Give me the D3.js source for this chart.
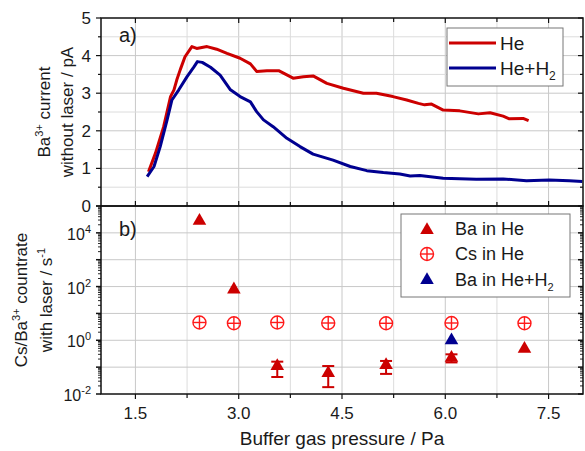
<!DOCTYPE html>
<html>
<head>
<meta charset="utf-8">
<script src="https://cdn.jsdelivr.net/npm/d3@7"></script>
<style>
  body { margin: 0; background: #fff; }
  text { font-family: Arial, "Liberation Sans", sans-serif; fill: #1a1a1a; }
</style>
</head>
<body>
<svg id="chart"></svg>
<script>
const width = 585;
const height = 451;

// panel a) ion current curves (pressure / Pa, current / pA)
const heX = [1.69, 1.79, 1.91, 2.01, 2.06, 2.10, 2.15, 2.22, 2.32, 2.39, 2.54, 2.68, 2.83, 3.02, 3.17, 3.26, 3.41, 3.58, 3.79, 3.94, 4.08, 4.28, 4.52, 4.81, 5.00, 5.24, 5.44, 5.61, 5.70, 5.80, 5.97, 6.21, 6.48, 6.65, 6.84, 6.93, 7.13, 7.21];
const heY = [0.91, 1.40, 2.11, 2.91, 3.09, 3.35, 3.62, 3.97, 4.24, 4.19, 4.24, 4.17, 4.06, 3.93, 3.78, 3.58, 3.60, 3.60, 3.40, 3.44, 3.46, 3.26, 3.13, 3.00, 3.00, 2.91, 2.82, 2.73, 2.69, 2.71, 2.55, 2.53, 2.45, 2.48, 2.39, 2.32, 2.33, 2.27];
const h2X = [1.67, 1.77, 1.86, 1.96, 2.03, 2.13, 2.25, 2.35, 2.40, 2.47, 2.59, 2.73, 2.88, 3.02, 3.17, 3.26, 3.36, 3.50, 3.70, 3.89, 4.08, 4.37, 4.62, 4.86, 5.10, 5.34, 5.49, 5.63, 5.97, 6.45, 6.84, 7.18, 7.51, 7.80, 7.99];
const h2Y = [0.78, 1.05, 1.58, 2.29, 2.82, 3.09, 3.44, 3.70, 3.84, 3.82, 3.69, 3.48, 3.09, 2.91, 2.77, 2.51, 2.29, 2.11, 1.80, 1.58, 1.38, 1.22, 1.05, 0.94, 0.89, 0.85, 0.80, 0.81, 0.74, 0.71, 0.72, 0.67, 0.69, 0.67, 0.65];

// panel b) count rates with laser / s^-1
const baHeX = [2.43, 2.93, 3.56, 4.30, 5.14, 6.09, 7.15];
const baHeY = [28000, 78, 0.11, 0.06, 0.12, 0.22, 0.48];
const baHeLo = [null, null, 0.043, 0.018, 0.056, 0.15, null];
const baHeHi = [null, null, 0.16, 0.11, 0.17, 0.30, null];
const csHeX = [2.43, 2.93, 3.56, 4.30, 5.14, 6.09, 7.15];
const csHeY = [4.6, 4.3, 4.6, 4.4, 4.3, 4.4, 4.3];
const baH2X = [6.09];
const baH2Y = [1.0];

const xTicks = [1.5, 3.0, 4.5, 6.0, 7.5];
const yaTicks = [0, 1, 2, 3, 4, 5];
const ybTicks = [1e-2, 1, 1e2, 1e4];

const red = '#cc0000';
const lightRed = '#ff1a1a';
const blue = '#000090';

const svg = d3.select('#chart')
  .attr('width', width)
  .attr('height', height);

const x = d3.scaleLinear().domain([1, 8]).range([101, 583]);
const ya = d3.scaleLinear().domain([0, 5]).range([206, 18]);
const yb = d3.scaleLog().domain([1e-2, 1e5]).range([394, 206]);

const xGrid = d3.range(1.5, 8, 0.75);

/* grid lines */
const grid = svg.append('g');
grid.selectAll('.gxa')
  .data(xGrid)
  .enter()
  .append('line')
    .attr('x1', d => x(d)).attr('x2', d => x(d))
    .attr('y1', ya(5)).attr('y2', yb(1e-2))
    .attr('stroke', (d, i) => i % 2 ? '#dcdcdc' : '#c8c8c8')
    .attr('stroke-width', 1);
grid.selectAll('.gya')
  .data(d3.range(0.5, 5, 0.5))
  .enter()
  .append('line')
    .attr('x1', x(1)).attr('x2', x(8))
    .attr('y1', d => ya(d)).attr('y2', d => ya(d))
    .attr('stroke', d => d % 1 ? '#dcdcdc' : '#c8c8c8')
    .attr('stroke-width', 1);
grid.selectAll('.gyb')
  .data(d3.range(-1, 5).map(e => Math.pow(10, e)))
  .enter()
  .append('line')
    .attr('x1', x(1)).attr('x2', x(8))
    .attr('y1', d => yb(d)).attr('y2', d => yb(d))
    .attr('stroke', '#c8c8c8')
    .attr('stroke-width', 1);

/* panel a curves */
const line = d3.line()
  .x(d => x(d[0]))
  .y(d => ya(d[1]));

svg.append('path')
  .datum(heX.map((v, i) => [v, heY[i]]))
  .attr('d', line)
  .attr('fill', 'none')
  .attr('stroke', red)
  .attr('stroke-width', 3)
  .attr('stroke-linejoin', 'round');

svg.append('path')
  .datum(h2X.map((v, i) => [v, h2Y[i]]))
  .attr('d', line)
  .attr('fill', 'none')
  .attr('stroke', blue)
  .attr('stroke-width', 3)
  .attr('stroke-linejoin', 'round');

/* panel b markers */
const tri = d3.symbol().type(d3.symbolTriangle).size(80);

const bars = baHeX.map((v, i) => ({x: v, lo: baHeLo[i], hi: baHeHi[i]})).filter(d => d.lo);
const eb = svg.append('g').attr('stroke', red).attr('stroke-width', 2);
bars.forEach(d => {
  eb.append('line').attr('x1', x(d.x)).attr('x2', x(d.x)).attr('y1', yb(d.lo)).attr('y2', yb(d.hi));
  eb.append('line').attr('x1', x(d.x) - 6).attr('x2', x(d.x) + 6).attr('y1', yb(d.lo)).attr('y2', yb(d.lo));
  eb.append('line').attr('x1', x(d.x) - 6).attr('x2', x(d.x) + 6).attr('y1', yb(d.hi)).attr('y2', yb(d.hi));
});

svg.selectAll('.baHe')
  .data(baHeX.map((v, i) => [v, baHeY[i]]))
  .enter()
  .append('path')
    .attr('d', tri)
    .attr('transform', d => `translate(${x(d[0])},${yb(d[1])})`)
    .attr('fill', red);

svg.selectAll('.baH2')
  .data(baH2X.map((v, i) => [v, baH2Y[i]]))
  .enter()
  .append('path')
    .attr('d', tri)
    .attr('transform', d => `translate(${x(d[0])},${yb(d[1])})`)
    .attr('fill', blue);

function circlePlus(g, cx, cy) {
  const c = g.append('g')
    .attr('transform', `translate(${cx},${cy})`)
    .attr('stroke', lightRed)
    .attr('stroke-width', 1.4)
    .attr('fill', 'none');
  c.append('circle').attr('r', 6.5);
  c.append('line').attr('x1', -6.5).attr('x2', 6.5);
  c.append('line').attr('y1', -6.5).attr('y2', 6.5);
}
const cs = svg.append('g');
csHeX.forEach((v, i) => circlePlus(cs, x(v), yb(csHeY[i])));

/* frames */
const frame = svg.append('g').attr('fill', 'none').attr('stroke', '#111').attr('stroke-width', 1.5);
frame.append('rect').attr('x', x(1)).attr('y', ya(5)).attr('width', x(8) - x(1)).attr('height', ya(0) - ya(5));
frame.append('rect').attr('x', x(1)).attr('y', yb(1e5)).attr('width', x(8) - x(1)).attr('height', yb(1e-2) - yb(1e5));

const ticks = svg.append('g').attr('stroke', '#111').attr('stroke-width', 1.2);
xGrid.forEach(v => {
  const len = v % 1.5 === 0 ? 5 : 4;
  ticks.append('line').attr('x1', x(v)).attr('x2', x(v)).attr('y1', ya(5)).attr('y2', ya(5) + len);
  ticks.append('line').attr('x1', x(v)).attr('x2', x(v)).attr('y1', ya(0)).attr('y2', ya(0) - len);
  ticks.append('line').attr('x1', x(v)).attr('x2', x(v)).attr('y1', yb(1e-2)).attr('y2', yb(1e-2) + len);
});
d3.range(0, 5.01, 0.5).forEach(v => {
  const len = v % 1 ? 3 : 5;
  ticks.append('line').attr('x1', x(1)).attr('x2', x(1) - len).attr('y1', ya(v)).attr('y2', ya(v));
  ticks.append('line').attr('x1', x(8)).attr('x2', x(8) - len).attr('y1', ya(v)).attr('y2', ya(v));
});
const logTicks = [];
for (let e = -2; e < 5; e++) {
  for (let m = 1; m < 10; m++) logTicks.push({v: m * Math.pow(10, e), major: m === 1});
}
logTicks.push({v: 1e5, major: true});
logTicks.forEach(t => {
  const len = t.major ? 5 : 3;
  ticks.append('line').attr('x1', x(1)).attr('x2', x(1) - len).attr('y1', yb(t.v)).attr('y2', yb(t.v)).attr('stroke-width', t.major ? 1.5 : 0.9);
  ticks.append('line').attr('x1', x(8)).attr('x2', x(8) - len).attr('y1', yb(t.v)).attr('y2', yb(t.v)).attr('stroke-width', t.major ? 1.5 : 0.9);
});

/* tick labels */
svg.selectAll('.xl')
  .data(xTicks)
  .enter()
  .append('text')
    .attr('x', d => x(d))
    .attr('y', 419)
    .attr('text-anchor', 'middle')
    .style('font-size', '17px')
    .text(d => d.toFixed(1));

svg.selectAll('.yal')
  .data(yaTicks)
  .enter()
  .append('text')
    .attr('x', 91)
    .attr('y', d => ya(d) + 6)
    .attr('text-anchor', 'end')
    .style('font-size', '17px')
    .text(d => d);

const ybl = svg.selectAll('.ybl')
  .data(ybTicks)
  .enter()
  .append('text')
    .attr('x', 91)
    .attr('y', d => yb(d) + 7)
    .attr('text-anchor', 'end')
    .style('font-size', '16px');
ybl.append('tspan').text('10');
ybl.append('tspan')
  .attr('dy', -7)
  .style('font-size', '11px')
  .text(d => Math.round(Math.log10(d)));

/* axis titles */
const ta = svg.append('text')
  .attr('transform', `translate(50,${(ya(0) + ya(5)) / 2}) rotate(-90)`)
  .attr('text-anchor', 'middle')
  .style('font-size', '17px');
ta.append('tspan').text('Ba');
ta.append('tspan').attr('dy', -7).style('font-size', '11px').text('3+');
ta.append('tspan').attr('dy', 7).text(' current');
svg.append('text')
  .attr('transform', `translate(73,${(ya(0) + ya(5)) / 2}) rotate(-90)`)
  .attr('text-anchor', 'middle')
  .style('font-size', '17px')
  .text('without laser / pA');

const tb = svg.append('text')
  .attr('transform', `translate(27,${(yb(1e-2) + yb(1e5)) / 2}) rotate(-90)`)
  .attr('text-anchor', 'middle')
  .style('font-size', '17px');
tb.append('tspan').text('Cs/Ba');
tb.append('tspan').attr('dy', -7).style('font-size', '11px').text('3+');
tb.append('tspan').attr('dy', 7).text(' countrate');
const tb2 = svg.append('text')
  .attr('transform', `translate(52,${(yb(1e-2) + yb(1e5)) / 2}) rotate(-90)`)
  .attr('text-anchor', 'middle')
  .style('font-size', '17px');
tb2.append('tspan').text('with laser / s');
tb2.append('tspan').attr('dy', -7).style('font-size', '11px').text('-1');

svg.append('text')
  .attr('x', 342)
  .attr('y', 445)
  .attr('text-anchor', 'middle')
  .style('font-size', '19px')
  .text('Buffer gas pressure / Pa');

svg.append('text').attr('x', 119).attr('y', 42).style('font-size', '20px').text('a)');
svg.append('text').attr('x', 119).attr('y', 236).style('font-size', '20px').text('b)');

/* legend a */
const la = svg.append('g');
la.append('rect').attr('x', 447).attr('y', 28).attr('width', 116).attr('height', 58)
  .attr('fill', '#fff').attr('stroke', '#777').attr('stroke-width', 1);
[[red, 43, 'He'], [blue, 68, 'He+H']].forEach(([c, yy, t], i) => {
  la.append('line').attr('x1', 449).attr('x2', 496).attr('y1', yy).attr('y2', yy)
    .attr('stroke', c).attr('stroke-width', 3);
  const tx = la.append('text').attr('x', 500).attr('y', yy + 7).style('font-size', '19px');
  tx.append('tspan').text(t);
  if (i === 1) tx.append('tspan').attr('dy', 5).style('font-size', '12px').text('2');
});

/* legend b */
const lb = svg.append('g');
lb.append('rect').attr('x', 401).attr('y', 214).attr('width', 169).attr('height', 83)
  .attr('fill', '#fff').attr('stroke', '#777').attr('stroke-width', 1);
lb.append('path').attr('d', tri).attr('transform', 'translate(427,230)').attr('fill', red);
circlePlus(lb, 427, 254);
lb.append('path').attr('d', tri).attr('transform', 'translate(427,280)').attr('fill', blue);
[[229, 'Ba in He'], [254, 'Cs in He'], [280, 'Ba in He+H']].forEach(([yy, t], i) => {
  const tx = lb.append('text').attr('x', 455).attr('y', yy + 6).style('font-size', '18px');
  tx.append('tspan').text(t);
  if (i === 2) tx.append('tspan').attr('dy', 5).style('font-size', '11px').text('2');
});
</script>
</body>
</html>
